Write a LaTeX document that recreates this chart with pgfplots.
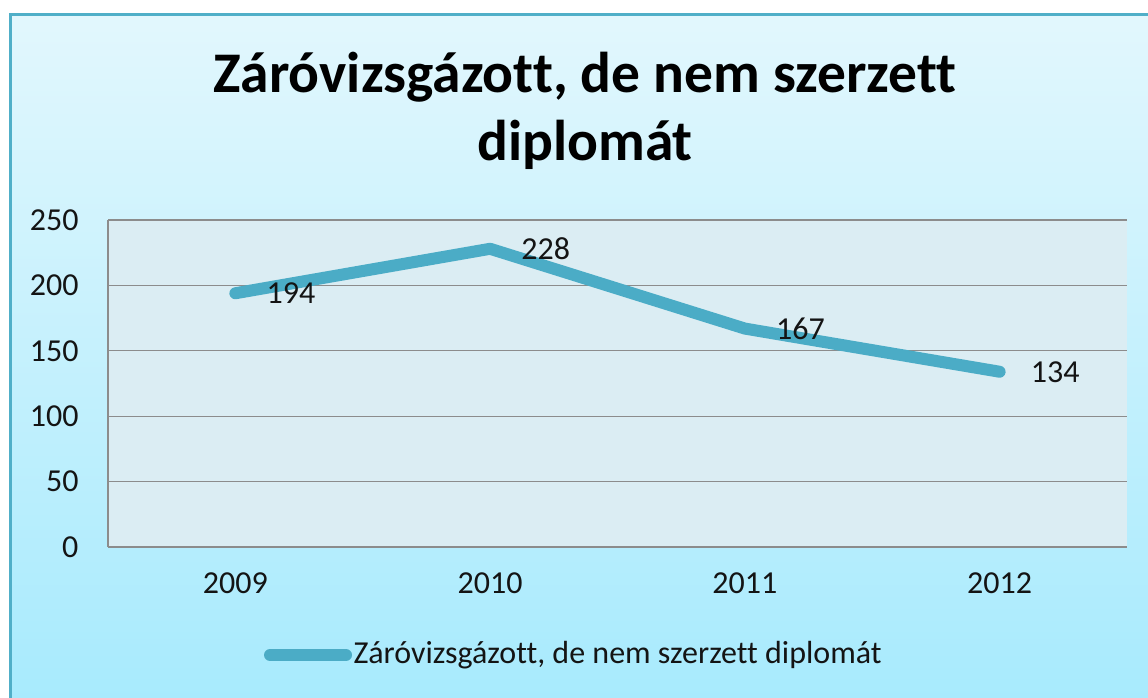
\documentclass[border=0pt]{standalone}
\usepackage{pgfplots}
\pgfplotsset{compat=1.18}
\usepackage{fontspec}
\setmainfont[RawFeature=-liga]{Carlito}
\definecolor{serie}{RGB}{75,172,198}
\definecolor{frame}{RGB}{80,175,200}
\definecolor{plotbg}{RGB}{219,237,243}
\definecolor{gridc}{RGB}{140,140,140}
\definecolor{bgtop}{RGB}{226,247,253}
\definecolor{bgbot}{RGB}{166,234,253}
\definecolor{txt}{RGB}{20,20,20}
\begin{document}
\begin{tikzpicture}[x=1pt,y=1pt]
\useasboundingbox (0,0) rectangle (1148,-697);
\clip (0,0) rectangle (1148,-697);
\fill[white] (0,0) rectangle (1148,-697);
\shade[top color=bgtop, bottom color=bgbot] (10,-14) rectangle (1170,-720);
\draw[frame, line width=3pt] (10,-14) rectangle (1170,-720);
\node[font=\fontsize{57.5}{68}\selectfont\bfseries, anchor=base, text=black] at (585,-92) {Záróvizsgázott, de nem szerzett};
\node[font=\fontsize{57.5}{68}\selectfont\bfseries, anchor=base, text=black] at (585,-160) {diplomát};
\begin{axis}[
  scale only axis,
  width=1019pt, height=327pt,
  at={(108pt,-547pt)}, anchor=south west,
  xmin=-0.5, xmax=3.5, ymin=0, ymax=250,
  xtick={0,1,2,3}, xticklabels={2009,2010,2011,2012},
  ytick={0,50,100,150,200,250},
  axis x line*=bottom, axis y line*=left,
  axis line style={gridc, line width=1.2pt},
  ymajorgrids, major grid style={gridc, line width=1.2pt},
  major tick length=0pt,
  axis background/.style={fill=plotbg},
  tick label style={font=\fontsize{32}{38}\selectfont, text=txt},
  /pgf/number format/assume math mode=true,
  xticklabel style={yshift=-22pt},
  yticklabel style={anchor=east, xshift=-26pt},
  nodes near coords,
  every node near coord/.style={anchor=west, xshift=22pt, font=\fontsize{32}{38}\selectfont, text=txt},
  clip=false,
]
\addplot[serie, line width=12pt, line cap=round, line join=round, mark=none] coordinates {(0,194) (1,228) (2,167) (3,134)};
\end{axis}
\node[anchor=west, font=\fontsize{32}{38}\selectfont, text=txt] at (350,-655) {Záróvizsgázott, de nem szerzett diplomát};
\draw[serie, line width=12pt, line cap=round] (270,-655) -- (346,-655);
\end{tikzpicture}
\end{document}
